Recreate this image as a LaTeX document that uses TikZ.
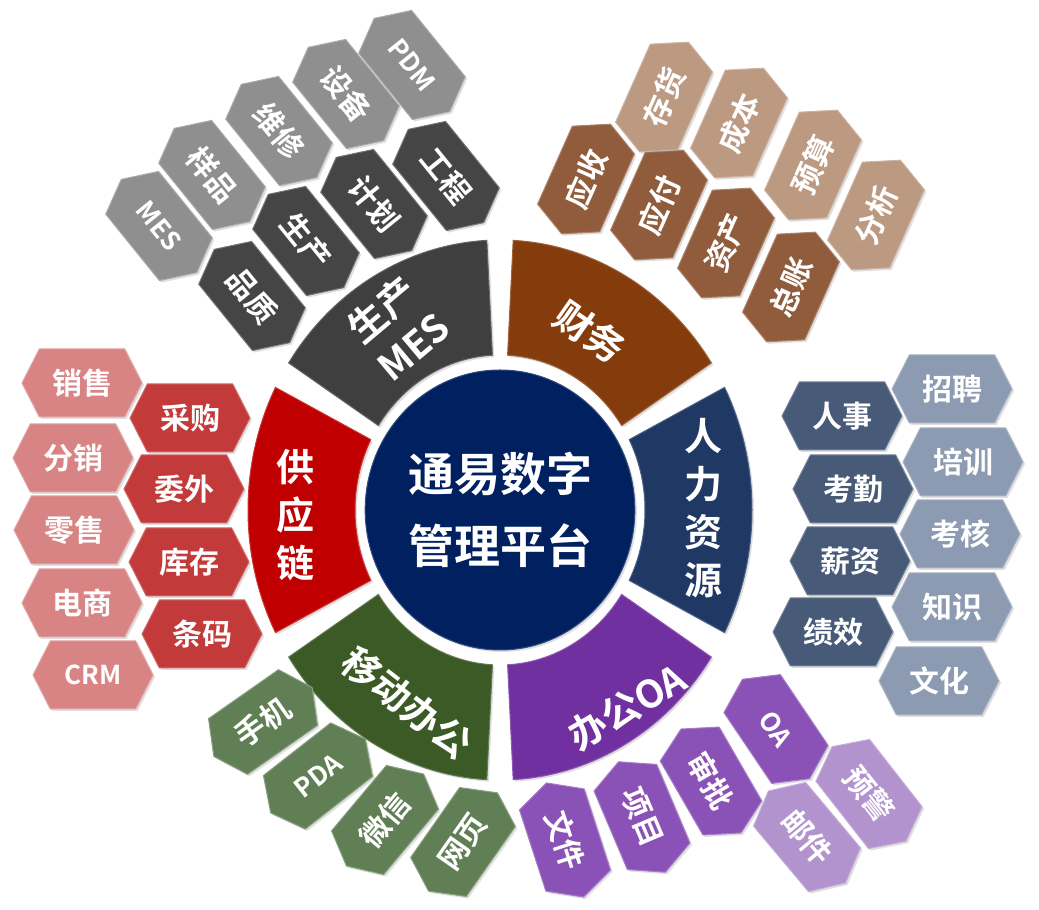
\documentclass[tikz,border=0pt]{standalone}
\usepackage{fontspec}
\newfontfamily\cjkb{Noto Sans CJK SC Bold}
\usetikzlibrary{shapes.geometric,shapes.symbols,shadows}

\definecolor{mesdark}{HTML}{3F3F3F}
\definecolor{mesin}{HTML}{454545}
\definecolor{mesout}{HTML}{8F8F8F}
\definecolor{fin}{HTML}{843C0C}
\definecolor{finin}{HTML}{905C3C}
\definecolor{finout}{HTML}{BC9A82}
\definecolor{hr}{HTML}{203864}
\definecolor{hrin}{HTML}{475A78}
\definecolor{hrout}{HTML}{8C9BB2}
\definecolor{oa}{HTML}{7030A0}
\definecolor{oain}{HTML}{8A52B6}
\definecolor{oaout}{HTML}{B293CE}
\definecolor{mob}{HTML}{3B5A26}
\definecolor{mobin}{HTML}{617F55}
\definecolor{sup}{HTML}{C00000}
\definecolor{supin}{HTML}{C23A3A}
\definecolor{supout}{HTML}{D98484}
\definecolor{hubc}{HTML}{002060}

\tikzset{
  hexa/.style={signal, signal to=east and west, signal pointer angle=126,
    minimum width=120pt, minimum height=68pt, inner sep=0pt, fill=#1, draw=#1!75!white,
    line width=1pt, text=white, font=\cjkb\fontsize{30}{32}\selectfont,
    drop shadow={shadow xshift=2pt, shadow yshift=-2pt, opacity=.25}},
  latin/.style={font=\cjkb\fontsize{26}{28}\selectfont},
  sect/.style={fill=#1, draw=#1!80!white, line width=1pt,
    drop shadow={shadow xshift=2pt, shadow yshift=-2pt, opacity=.25}},
  secttext/.style={text=white, align=center, font=\cjkb\fontsize{38}{48}\selectfont}
}

\begin{document}
\begin{tikzpicture}[x=1pt,y=1pt]
\useasboundingbox (0,0) rectangle (1039,910);

\def\sector#1{(#1-27:145pt and 155pt) arc[start angle=#1-27, end angle=#1+27, x radius=145pt, y radius=155pt]
  -- (#1+27:252pt and 270pt) arc[start angle=#1+27, end angle=#1-27, x radius=252pt, y radius=270pt] -- cycle}

\begin{scope}[shift={(500,400)}] % six segments round the hub
\fill[sect=hr] \sector{0};
\fill[sect=fin] \sector{60};
\fill[sect=mesdark] \sector{120};
\fill[sect=sup] \sector{180};
\fill[sect=mob] \sector{240};
\fill[sect=oa] \sector{300};
\end{scope}

\node[ellipse, fill=hubc, draw=hubc!80!white, line width=1pt, minimum width=262pt, minimum height=280pt,
  text=white, align=center, font=\cjkb\fontsize{46}{72}\selectfont,
  drop shadow={shadow xshift=2pt, shadow yshift=-2pt, opacity=.25}] (hub) at (500,400) {通易数字\\管理平台};

\node[secttext, rotate=40] (mesT) at (397,583) {生产\\MES};
\node[secttext, rotate=-35] (finT) at (590,578) {财务};
\node[secttext] (hrT) at (703,402) {人\\力\\资\\源};
\node[secttext] (supT) at (295,395) {供\\应\\链};
\node[secttext, rotate=-38] (mobT) at (407,207) {移动办公};
\node[secttext, rotate=30] (oaT) at (627,203) {办公OA};

% supply chain
\node[hexa=supout] (sales) at (82,527) {销售};
\node[hexa=supout] (distrib) at (73,452) {分销};
\node[hexa=supout] (retail) at (74,380) {零售};
\node[hexa=supout] (ecom) at (82,307) {电商};
\node[hexa=supout, latin] (crm) at (93,235) {CRM};
\node[hexa=supin] (purch) at (190,492) {采购};
\node[hexa=supin] (outsrc) at (184,421) {委外};
\node[hexa=supin] (stock) at (189,348) {库存};
\node[hexa=supin] (barcode) at (202,276) {条码};

% human resources
\node[hexa=hrin] (staff) at (842,494) {人事};
\node[hexa=hrin] (attend) at (853,421) {考勤};
\node[hexa=hrin] (salary) at (850,349) {薪资};
\node[hexa=hrin] (perf) at (833,278) {绩效};
\node[hexa=hrout] (recruit) at (952,521) {招聘};
\node[hexa=hrout] (train) at (963,448) {培训};
\node[hexa=hrout] (assess) at (960,376) {考核};
\node[hexa=hrout] (know) at (952,303) {知识};
\node[hexa=hrout] (culture) at (939,229) {文化};

% production
\node[hexa=mesout, rotate=-51, latin] (mes) at (159,684) {MES};
\node[hexa=mesout, rotate=-51] (sample) at (212,735) {样品};
\node[hexa=mesout, rotate=-51] (repair) at (279,779) {维修};
\node[hexa=mesout, rotate=-51] (equip) at (346,816) {设备};
\node[hexa=mesout, rotate=-51, latin] (pdm) at (412,845) {PDM};
\node[hexa=mesin, rotate=-51] (quality) at (252,614) {品质};
\node[hexa=mesin, rotate=-51] (produce) at (306,669) {生产};
\node[hexa=mesin, rotate=-51] (plan) at (374,706) {计划};
\node[hexa=mesin, rotate=-51] (eng) at (446,734) {工程};

% finance
\node[hexa=finin, rotate=66] (recv) at (586,731) {应收};
\node[hexa=finin, rotate=66] (pay) at (659,705) {应付};
\node[hexa=finin, rotate=66] (asset) at (726,667) {资产};
\node[hexa=finin, rotate=66] (ledger) at (791,623) {总账};
\node[hexa=finout, rotate=66] (invent) at (664,813) {存货};
\node[hexa=finout, rotate=66] (cost) at (739,787) {成本};
\node[hexa=finout, rotate=66] (budget) at (813,745) {预算};
\node[hexa=finout, rotate=66] (analys) at (876,695) {分析};

% mobile office
\node[hexa=mobin, rotate=35] (phone) at (263,188) {手机};
\node[hexa=mobin, rotate=38, latin] (pda) at (318,134) {PDA};
\node[hexa=mobin, rotate=50] (wechat) at (385,90) {微信};
\node[hexa=mobin, rotate=55] (web) at (463,68) {网页};

% office automation
\node[hexa=oain, rotate=-72] (file) at (565,70) {文件};
\node[hexa=oain, rotate=-67] (proj) at (642,93) {项目};
\node[hexa=oain, rotate=-60] (approve) at (711,129) {审批};
\node[hexa=oain, rotate=-56, latin] (oaH) at (776,181) {OA};
\node[hexa=oaout, rotate=-50] (mail) at (807,73) {邮件};
\node[hexa=oaout, rotate=-52] (alert) at (869,116) {预警};
\end{tikzpicture}
\end{document}
